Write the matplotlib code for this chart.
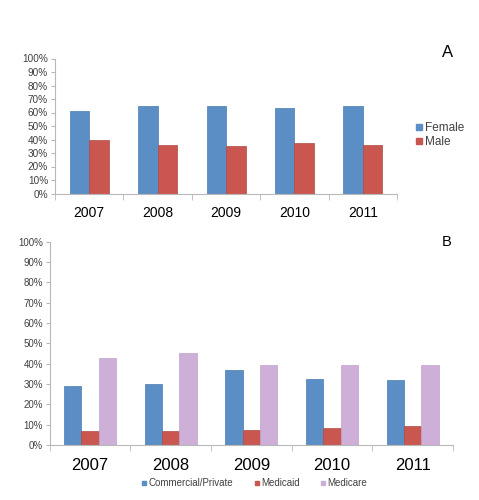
import numpy as np
import matplotlib.pyplot as plt
from matplotlib.lines import Line2D

plt.rcParams['font.family'] = ['Liberation Sans', 'DejaVu Sans']

years = ['2007', '2008', '2009', '2010', '2011']

# Panel A: gender share
female = [61, 64.5, 65, 63, 64.5]
male = [39.5, 36, 35, 37.5, 36]

# Panel B: payer share
commercial = [29.2, 29.8, 36.9, 32.6, 32.1]
medicaid = [7.0, 7.0, 7.5, 8.2, 9.2]
medicare = [42.8, 45.1, 39.3, 39.3, 39.3]

BLUE = '#5B8EC4'
RED = '#C9574F'
LILAC = '#CDAFD7'
SPINE = '#B8B8B8'
TXT = '#404040'


def style_axis(ax, ytick_size, xtick_size):
    ax.set_ylim(0, 100)
    ax.set_xlim(-0.5, len(years) - 0.5)
    ax.set_yticks(np.arange(0, 101, 10))
    ax.set_yticklabels([f'{v}%' for v in range(0, 101, 10)])
    ax.set_xticks(np.arange(len(years)))
    ax.set_xticklabels(years)
    ax.set_xticks(np.arange(-0.5, len(years), 1.0), minor=True)
    ax.tick_params(axis='x', which='major', length=0, labelsize=xtick_size, pad=9, colors='black')
    ax.tick_params(axis='x', which='minor', length=4, color=SPINE, direction='out')
    ax.tick_params(axis='y', length=3, color=SPINE, labelsize=ytick_size, labelcolor=TXT, pad=2)
    for s in ['top', 'right']:
        ax.spines[s].set_visible(False)
    for s in ['left', 'bottom']:
        ax.spines[s].set_color(SPINE)
        ax.spines[s].set_linewidth(0.8)


fig = plt.figure(figsize=(4.79, 5.0), dpi=100)

# ---- Panel A
axA = fig.add_axes([0.115, 0.613, 0.714, 0.270])
x = np.arange(len(years))
w = 0.285
axA.bar(x - w / 2, female, w, color=BLUE, edgecolor='#4A7AB0', linewidth=0.5, label='Female')
axA.bar(x + w / 2, male, w, color=RED, edgecolor='#B04A44', linewidth=0.5, label='Male')
style_axis(axA, 7.2, 10)
handlesA = [Line2D([], [], marker='s', color=c, linestyle='none', markersize=4) for c in [BLUE, RED]]
fig.legend(handlesA, ['Female', 'Male'], loc='center left', bbox_to_anchor=(0.845, 0.730),
           frameon=False, fontsize=8.5, handlelength=0.6, handletextpad=0.2, labelspacing=0.15,
           labelcolor=TXT)
fig.text(0.935, 0.895, 'A', fontsize=12, ha='center', va='center')

# ---- Panel B
axB = fig.add_axes([0.104, 0.110, 0.842, 0.407])
w = 0.215
axB.bar(x - w, commercial, w, color=BLUE, edgecolor='#4A7AB0', linewidth=0.5)
axB.bar(x, medicaid, w, color=RED, edgecolor='#B04A44', linewidth=0.5)
axB.bar(x + w, medicare, w, color=LILAC, edgecolor='#C0A2CB', linewidth=0.5)
style_axis(axB, 7, 12)
handlesB = [Line2D([], [], marker='s', color=c, linestyle='none', markersize=3) for c in [BLUE, RED, LILAC]]
fig.legend(handlesB, ['Commercial/Private', 'Medicaid', 'Medicare'], loc='center',
           bbox_to_anchor=(0.531, 0.034), ncol=3, frameon=False, fontsize=7,
           handlelength=0.5, handletextpad=0.2, columnspacing=2.2, labelcolor=TXT)
fig.text(0.933, 0.516, 'B', fontsize=10.5, ha='center', va='center')

plt.savefig('out.png', dpi=100)
plt.close()
